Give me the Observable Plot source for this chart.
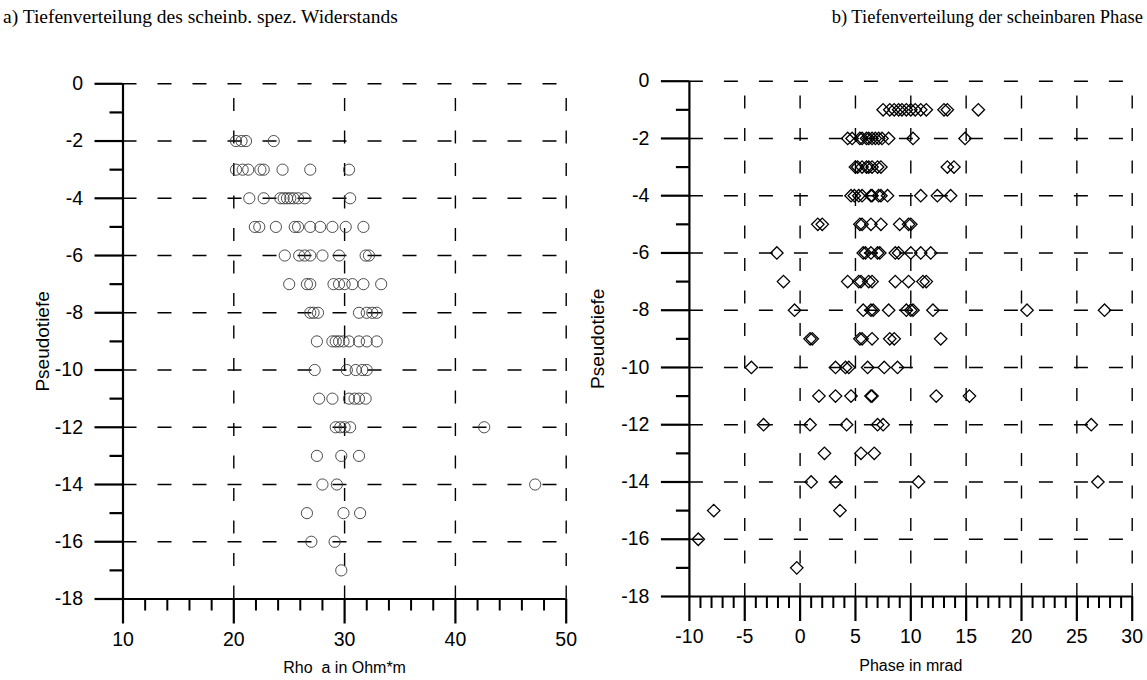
<!DOCTYPE html>
<html>
<head>
<meta charset="utf-8">
<script src="https://cdn.jsdelivr.net/npm/d3@7"></script>
<script src="https://cdn.jsdelivr.net/npm/@observablehq/plot@0.6"></script>
<style>
  html, body { margin: 0; padding: 0; background: #fff; }
  #root { position: relative; width: 1147px; height: 680px; overflow: hidden; background: #fff; }
  .title { position: absolute; top: 7px; font-family: "Liberation Serif", "Times New Roman", serif; font-size: 19.5px; line-height: 20px; color: #000; white-space: nowrap; z-index: 2; }
  .panel { position: absolute; top: 0; }
</style>
</head>
<body>
<div id="root">
  <div class="title" style="left:3px;">a) Tiefenverteilung des scheinb. spez. Widerstands</div>
  <div class="title" style="right:4px; font-size:18.5px;">b) Tiefenverteilung der scheinbaren Phase</div>
  <div id="left" class="panel" style="left:0px;"></div>
  <div id="right" class="panel" style="left:580px;"></div>
</div>
<script>
// ---- Data ----
const depths = [-2, -3, -4, -5, -6, -7, -8, -9, -10, -11, -12, -13, -14, -15, -16, -17];
const rhoValues = [
  [20.2, 20.7, 21.1, 23.6],
  [20.2, 20.8, 21.3, 22.4, 22.7, 24.4, 26.9, 30.4],
  [21.4, 22.7, 24.2, 24.5, 24.8, 25.1, 25.4, 25.8, 26.4, 30.5],
  [21.9, 22.3, 23.8, 25.5, 25.8, 26.9, 27.8, 28.9, 30.1, 31.7],
  [24.6, 25.9, 26.4, 26.9, 28.0, 29.5, 31.9, 32.2],
  [25.0, 26.6, 26.9, 29.0, 29.5, 30.0, 30.7, 31.7, 33.3],
  [26.9, 27.2, 27.6, 31.3, 32.0, 32.5, 32.9],
  [27.5, 28.9, 29.2, 29.5, 29.9, 30.4, 31.3, 32.0, 32.9],
  [27.3, 30.2, 31.0, 31.6, 32.0],
  [27.7, 28.9, 30.4, 30.9, 31.3, 31.9],
  [29.2, 29.6, 30.0, 30.5, 42.6],
  [27.5, 29.7, 31.3],
  [28.0, 29.3, 47.2],
  [26.6, 29.9, 31.4],
  [27.0, 29.1],
  [29.7]
];
const phaseDepths = [-1, -2, -3, -4, -5, -6, -7, -8, -9, -10, -11, -12, -13, -14, -15, -16, -17];
const phaseValues = [
  [7.5, 8.1, 8.5, 8.9, 9.2, 9.6, 10.0, 10.4, 10.9, 11.4, 13.0, 13.3, 16.1],
  [4.3, 4.7, 5.4, 5.6, 6.0, 6.2, 6.5, 6.8, 7.1, 7.4, 8.0, 10.2, 14.9],
  [5.0, 5.2, 5.6, 6.0, 6.2, 6.5, 7.0, 7.3, 13.3, 13.9],
  [4.6, 4.9, 5.3, 5.6, 6.4, 6.5, 7.1, 7.3, 7.9, 10.9, 12.4, 13.6],
  [1.6, 2.0, 5.4, 5.6, 6.4, 7.3, 9.0, 9.8, 10.0],
  [-2.1, 5.7, 5.9, 6.4, 7.0, 7.2, 8.6, 8.9, 10.0, 10.9, 11.8],
  [-1.5, 4.3, 5.3, 5.5, 6.2, 6.5, 8.6, 9.8, 11.1, 11.4],
  [-0.5, 5.7, 6.4, 6.6, 8.0, 9.6, 10.0, 10.2, 12.0, 20.5, 27.5],
  [0.9, 1.1, 5.4, 5.6, 6.5, 8.1, 8.5, 12.7],
  [-4.4, 3.2, 4.1, 4.4, 6.1, 7.6, 8.8],
  [1.7, 3.2, 4.6, 6.4, 6.5, 12.3, 15.3],
  [-3.3, 0.9, 4.2, 7.0, 7.5, 26.3],
  [2.2, 5.5, 6.7],
  [1.0, 3.2, 10.7, 26.9],
  [-7.8, 3.6],
  [-9.2],
  [-0.3]
];
const depthTicks = [0, -2, -4, -6, -8, -10, -12, -14, -16, -18];
const depthMinor = [-1, -3, -5, -7, -9, -11, -13, -15, -17];
const rhoTicks = [10, 20, 30, 40, 50];
const rhoMinor = [12, 14, 16, 18, 22, 24, 26, 28, 32, 34, 36, 38, 42, 44, 46, 48];
const phaseTicks = [-10, -5, 0, 5, 10, 15, 20, 25, 30];
const phaseMinor = d3.range(-10, 31).filter(v => v % 5 !== 0);

const rhoPoints = depths.flatMap((d, i) => rhoValues[i].map(v => ({depth: d, value: v})));
const phasePoints = phaseDepths.flatMap((d, i) => phaseValues[i].map(v => ({depth: d, value: v})));

const fmt = d => String(d);
const font = {fontFamily: "'Liberation Sans', Arial, sans-serif", fontSize: "19.5px", color: "#000", background: "#fff"};

function panel({width, mL, mR, mT, mB, xDomain, xTicks, xMinor, marks, xLabel, yLabelDx}) {
  return Plot.plot({
    width, height: 680,
    marginLeft: mL, marginRight: mR, marginTop: mT, marginBottom: mB,
    style: font,
    x: {domain: xDomain, axis: null},
    y: {domain: [-18, 0], axis: null},
    marks: [
      // dashed grid
      Plot.ruleY(depthTicks.filter(d => d !== -18), {y: d => d, x1: xDomain[0], x2: xDomain[1], stroke: "#000", strokeWidth: 1.4, strokeDasharray: "14,21"}),
      Plot.ruleX(xTicks.filter(d => d !== xDomain[0]), {x: d => d, y1: -18, y2: 0, stroke: "#000", strokeWidth: 1.4, strokeDasharray: "13,19.5"}),
      // axes lines
      Plot.ruleX([xDomain[0]], {y1: -18, y2: 0, stroke: "#000", strokeWidth: 2.2}),
      Plot.ruleY([-18], {x1: xDomain[0], x2: xDomain[1], stroke: "#000", strokeWidth: 2.2}),
      // ticks
      Plot.axisY({ticks: depthTicks, tickSize: 28, tickPadding: 12, tickFormat: fmt, strokeWidth: 2.2, fontSize: 19.5, label: null}),
      Plot.axisY({ticks: depthMinor, tickSize: 13, tickFormat: () => "", strokeWidth: 2.2, label: null}),
      Plot.axisX({ticks: xTicks, tickSize: 25, tickPadding: 8, tickFormat: fmt, strokeWidth: 2.2, fontSize: 19.5, label: null}),
      Plot.axisX({ticks: xMinor, tickSize: 12, tickFormat: () => "", strokeWidth: 2, label: null}),
      // labels
      Plot.text(["Pseudotiefe"], {frameAnchor: "left", dx: yLabelDx, rotate: -90, textAnchor: "middle", fontSize: 19, fill: "#000"}),
      Plot.text([xLabel], {frameAnchor: "bottom", dy: 74, fontSize: 16, fill: "#000"}),
      ...marks
    ]
  });
}

const left = panel({
  width: 580, mL: 122.5, mR: 14.3, mT: 83.3, mB: 81.5,
  xDomain: [10, 50], xTicks: rhoTicks, xMinor: rhoMinor,
  xLabel: "Rho\u00a0\u00a0a in Ohm*m", yLabelDx: -80,
  marks: [Plot.dot(rhoPoints, {x: "value", y: "depth", r: 5.6, stroke: "#3a3a3a", strokeWidth: 0.9, fill: "none"})]
});
document.getElementById("left").appendChild(left);

const right = panel({
  width: 567, mL: 108.9, mR: 15.3, mT: 80.7, mB: 84,
  xDomain: [-10, 30], xTicks: phaseTicks, xMinor: phaseMinor,
  xLabel: "Phase in mrad", yLabelDx: -91,
  marks: [Plot.dot(phasePoints, {x: "value", y: "depth", symbol: "diamond2", r: 5.6, stroke: "#000", strokeWidth: 1.3, fill: "none"})]
});
document.getElementById("right").appendChild(right);
</script>
</body>
</html>
